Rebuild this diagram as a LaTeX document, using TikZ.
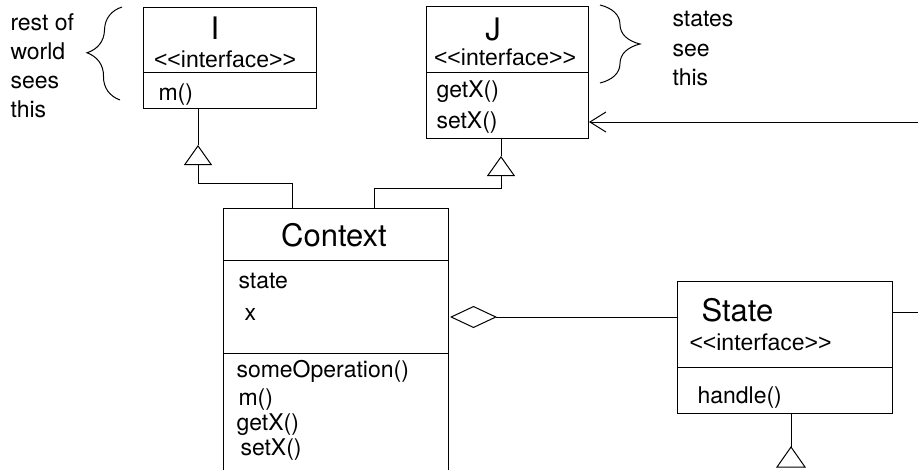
\documentclass[tikz,border=0pt]{standalone}
\usepackage{fontspec}
\setmainfont{TeX Gyre Heros}
\newfontfamily\stereofont{Liberation Sans}
\usetikzlibrary{arrows.meta,decorations.pathreplacing}

\newcommand{\bodyfont}{\fontsize{23}{28}\selectfont}
\newcommand{\titlefont}{\fontsize{31}{36}\selectfont}
\newcommand{\stereotype}{{\stereofont <<interface>>}}

\begin{document}
\begin{tikzpicture}[x=1pt,y=-1pt,line width=1pt]

\useasboundingbox (0,0) rectangle (918,469);

% Styles: class boxes, the texts in them, and the connector tips
\tikzstyle{umlbox}=[draw, anchor=north west, inner sep=0pt]
\tikzstyle{member}=[anchor=base west, inner sep=0pt, font=\bodyfont]
\tikzstyle{stereo}=[anchor=base, inner sep=0pt, font=\bodyfont]
\tikzstyle{title}=[anchor=base, inner sep=0pt, font=\titlefont]
\tikzstyle{inherit}=[-{Triangle[open,length=20pt,width=28pt]}]
\tikzstyle{curly}=[decorate, decoration={brace,amplitude=34pt}]

% The four class boxes
\node [umlbox, minimum width=173pt, minimum height=101pt] (I) at (143,7) {};
\node [umlbox, minimum width=162pt, minimum height=132pt] (J) at (426,6) {};
\node [umlbox, minimum width=225pt, minimum height=265pt] (ctx) at (223,208) {};  % runs off the bottom
\node [umlbox, minimum width=215pt, minimum height=132pt] (State) at (677,281) {};

% Compartment lines
\draw ([yshift=-65pt]I.north west) -- ([yshift=-65pt]I.north east);
\draw ([yshift=-66pt]J.north west) -- ([yshift=-66pt]J.north east);
\draw ([yshift=-52pt]ctx.north west) -- ([yshift=-52pt]ctx.north east);
\draw ([yshift=-145pt]ctx.north west) -- ([yshift=-145pt]ctx.north east);
\draw ([yshift=-86pt]State.north west) -- ([yshift=-86pt]State.north east);

% Texts of I
\node [title] (I-name) at (215,39) {I};
\node [stereo] (I-st) at (225,67) {\stereotype};
\node [member] (I-m) at (158,100) {m()};

% Texts of J
\node [title] (J-name) at (493,40) {J};
\node [stereo] (J-st) at (505,65) {\stereotype};
\node [member] (J-get) at (436,97) {getX()};
\node [member] (J-set) at (436,128) {setX()};

% Texts of Context
\node [title] (ctx-name) at (334,246) {Context};
\node [member] (ctx-state) at (238,288) {state};
\node [member] (ctx-x) at (244,320) {x};
\node [member] (ctx-op) at (236,377) {someOperation()};
\node [member] (ctx-m) at (238,405) {m()};
\node [member] (ctx-get) at (236,430) {getX()};
\node [member] (ctx-set) at (240,455) {setX()};

% Texts of State
\node [member, font=\titlefont] (State-name) at (701,321) {State};
\node [member] (State-st) at (689,350) {\stereotype};
\node [member] (State-h) at (697,403) {handle()};

% Side notes with their braces
\node [member] (note-l1) at (10,30) {rest of};
\node [member] (note-l2) at (10,59) {world};
\node [member] (note-l3) at (10,88) {sees};
\node [member] (note-l4) at (10,117) {this};
\draw [curly] (120,100) -- (122,7);

\node [member] (note-r1) at (672,26) {states};
\node [member] (note-r2) at (672,56) {see};
\node [member] (note-r3) at (672,85) {this};
\draw [curly, decoration={amplitude=40pt}] (600,5) -- (600,83);

% Connector endpoints
\coordinate (Itip) at (198,145);     % apex of the triangle under I
\coordinate (Jtip) at (501,156);     % apex of the triangle under J
\coordinate (Stip) at (791,447);     % apex of the triangle under State
\coordinate (agg) at (450,317);      % tip of the diamond
\coordinate (rightIn) at (918,122);
\coordinate (rightOut) at (918,312);

% Context realises I and J
\draw (I.south -| Itip) -- (Itip);
\draw [inherit] (ctx.north -| 292,0) |- (198,183) -- (Itip);
\draw (J.south -| Jtip) -- (Jtip);
\draw [inherit] (ctx.north -| 374,0) |- (501,188) -- (Jtip);

% Context holds a State
\draw [-{Diamond[open,length=47pt,width=22pt]}] (State.west |- agg) -- (agg);

% Lines running off the right edge
\draw [-{Straight Barb[length=16pt,width=20pt]}] (rightIn) -- (J.east |- rightIn);
\draw (State.east |- rightOut) -- (rightOut);

% Triangle under State
\draw (State.south -| Stip) -- (Stip);
\draw (Stip) -- ++(-14,20) -- ++(28,0) -- cycle;

\end{tikzpicture}
\end{document}
